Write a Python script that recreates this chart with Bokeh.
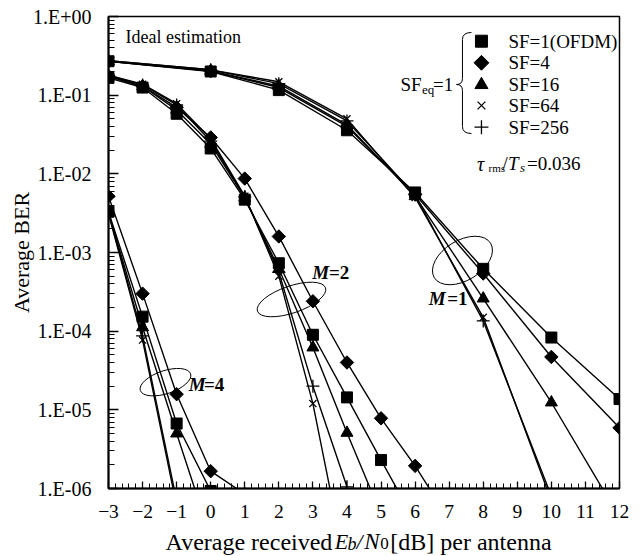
import math
import numpy as np
from bokeh.plotting import figure
from bokeh.layouts import column
from bokeh.models import (Range1d, SingleIntervalTicker, LogTicker, CustomJSTickFormatter,
                          Label, LabelSet, ColumnDataSource)
from bokeh.embed import file_html
from bokeh.resources import INLINE

nan = float("nan")

# ---------------- data ----------------
series_labels = ["SF=1(OFDM)", "SF=4", "SF=16", "SF=64", "SF=256"]

x_m1 = [-3, 0, 2, 4, 6, 8, 10, 12]
m1_sf1 = [0.270, 0.200, 0.116, 0.0358, 0.0058, 6.2e-4, 8.3e-5, 1.37e-5]
m1_sf4 = [0.270, 0.202, 0.125, 0.040, 0.0055, 5.4e-4, 4.7e-5, 5.9e-6]
m1_sf16 = [0.270, 0.204, 0.130, 0.042, 0.0052, 2.6e-4, 1.24e-5, 4.3e-7]
m1_sf64 = [0.275, 0.210, 0.148, 0.050, 0.0050, 1.5e-4, 7.0e-7, nan]
m1_sf256 = [0.275, 0.210, 0.140, 0.047, 0.0054, 1.35e-4, 8.0e-7, nan]

x_m2 = [-3, -2, -1, 0, 1, 2, 3, 4, 5, 6, 7]
m2_sf1 = [0.166, 0.125, 0.058, 0.021, 0.0047, 7.3e-4, 9.0e-5, 1.44e-5, 2.3e-6, 3.8e-7, nan]
m2_sf4 = [0.175, 0.130, 0.070, 0.029, 0.0087, 1.6e-3, 2.4e-4, 4.0e-5, 7.8e-6, 1.94e-6, 4.0e-7]
m2_sf16 = [0.172, 0.130, 0.065, 0.024, 0.0050, 6.2e-4, 6.2e-5, 5.1e-6, 4.7e-7, nan, nan]
m2_sf64 = [0.180, 0.138, 0.078, 0.028, 0.0052, 5.0e-4, 1.2e-5, 8.3e-8, nan, nan, nan]
m2_sf256 = [0.178, 0.135, 0.075, 0.026, 0.0051, 5.6e-4, 2.0e-5, 1.05e-6, nan, nan, nan]

x_m4 = [-3, -2, -1, 0, 1]
m4_sf1 = [3.3e-3, 1.53e-4, 6.7e-6, 9.3e-7, nan]
m4_sf4 = [5.2e-3, 3.0e-4, 1.58e-5, 1.66e-6, 8.5e-7]
m4_sf16 = [3.2e-3, 1.12e-4, 5.0e-6, 2.4e-7, nan]
m4_sf64 = [3.1e-3, 7.7e-5, 6.0e-7, nan, nan]
m4_sf256 = [3.2e-3, 8.7e-5, 7.0e-7, nan, nan]

groups = [
    (x_m1, [m1_sf1, m1_sf4, m1_sf16, m1_sf64, m1_sf256]),
    (x_m2, [m2_sf1, m2_sf4, m2_sf16, m2_sf64, m2_sf256]),
    (x_m4, [m4_sf1, m4_sf4, m4_sf16, m4_sf64, m4_sf256]),
]

# ---------------- figure ----------------
FONT = "Liberation Serif"
H_MAIN = 526
H_XLAB = 30

p = figure(width=643, height=H_MAIN, output_backend="svg", toolbar_location=None,
           x_range=Range1d(-3, 12), y_range=Range1d(1e-6, 1), y_axis_type="log",
           min_border_left=108, min_border_right=24, min_border_top=16,
           min_border_bottom=H_MAIN - 488,
           background_fill_color="white", border_fill_color="white")
p.grid.visible = False
p.outline_line_color = "black"
p.outline_line_width = 1.5

p.xaxis.ticker = SingleIntervalTicker(interval=1, num_minor_ticks=5)
p.yaxis.ticker = LogTicker(num_minor_ticks=10)
p.yaxis.formatter = CustomJSTickFormatter(code="""
const e = Math.round(Math.log10(tick));
const s = e < 0 ? "-" : "+";
const a = Math.abs(e);
return "1.E" + s + (a < 10 ? "0" : "") + a;
""")
for ax in (p.xaxis[0], p.yaxis[0]):
    ax.axis_line_width = 2
    ax.axis_line_color = "black"
    ax.major_tick_out = 0
    ax.minor_tick_out = 0
    ax.major_tick_line_color = "black"
    ax.minor_tick_line_color = "black"
    ax.major_tick_line_width = 1.3
    ax.minor_tick_line_width = 1.0
    ax.major_label_text_font = FONT
    ax.major_label_text_color = "black"
p.xaxis.major_label_text_font_size = "19.5px"
p.yaxis.major_label_text_font_size = "20px"
p.xaxis.major_label_standoff = 16
p.yaxis.major_label_standoff = 17
p.xaxis.major_tick_in = 7
p.xaxis.minor_tick_in = 5
p.yaxis.major_tick_in = 10
p.yaxis.minor_tick_in = 6

p.yaxis.axis_label = "Average BER"
p.yaxis.axis_label_text_font = FONT
p.yaxis.axis_label_text_font_size = "22px"
p.yaxis.axis_label_text_font_style = "normal"
p.yaxis.axis_label_text_color = "black"
p.yaxis.axis_label_standoff = -4

# ---------------- helpers for annotation placement ----------------
def dx(px):
    return (px - 108.0) / 34.07 - 3.0

def dy(py):
    return 10 ** (-(py - 16.0) / 78.67)

def lab(text, px, py, size, style="normal", align="left", fig=None, yconv=None):
    fig = fig or p
    yconv = yconv or dy
    fig.add_layout(Label(x=dx(px), y=yconv(py), text=text, text_font=FONT,
                         text_font_size=f"{size}px", text_font_style=style,
                         text_align=align, text_baseline="middle", text_color="black"))

# ---------------- series ----------------
marker_specs = [
    dict(marker="square", size=11, angle=0.0),
    dict(marker="square", size=9.5, angle=math.pi / 4),
    dict(marker="triangle", size=12, angle=0.0),
    dict(marker="x", size=10, angle=0.0),
    dict(marker="cross", size=13, angle=0.0),
]

for xs, ys_list in groups:
    for ys in ys_list:
        p.line(xs, ys, line_color="black", line_width=1.4)
for xs, ys_list in groups:
    for ys, spec in zip(ys_list, marker_specs):
        filled = spec["marker"] in ("square", "triangle")
        p.scatter(xs, ys, marker=spec["marker"], size=spec["size"], angle=spec["angle"],
                  fill_color="black" if filled else None, line_color="black",
                  line_width=1.0 if filled else 1.3)

# ---------------- legend (manual) ----------------
leg_y = [40.7, 62.3, 84.3, 105.0, 126.7]
for spec, yy in zip(marker_specs, leg_y):
    filled = spec["marker"] in ("square", "triangle")
    p.scatter([dx(481)], [dy(yy)], marker=spec["marker"], size=spec["size"] + 1,
              angle=spec["angle"], fill_color="black" if filled else None,
              line_color="black", line_width=1.0 if filled else 1.3)
leg_src = ColumnDataSource(dict(x=[dx(508)] * 5, y=[dy(v) for v in leg_y], t=series_labels))
p.add_layout(LabelSet(x="x", y="y", text="t", source=leg_src, text_font=FONT,
                      text_font_size="19px", text_baseline="middle", text_align="left",
                      text_color="black"))

# brace
bx0, bxm, bxt = 471, 462, 456
p.quadratic(x0=[dx(bx0), dx(bxm), dx(bxt), dx(bxm)],
            y0=[dy(32), dy(78), dy(84), dy(126)],
            x1=[dx(bxm), dx(bxt), dx(bxm), dx(bx0)],
            y1=[dy(39), dy(84), dy(90), dy(133)],
            cx=[dx(bxm), dx(bxm), dx(bxm), dx(bxm)],
            cy=[dy(32), dy(84), dy(84), dy(133)],
            line_color="black", line_width=1.0)
p.segment(x0=[dx(bxm), dx(bxm)], y0=[dy(39), dy(90)], x1=[dx(bxm), dx(bxm)],
          y1=[dy(78), dy(126)], line_color="black", line_width=1.0)

lab("SF", 400, 84.3, 19)
lab("eq", 421.5, 89.5, 13)
lab("=1", 432.5, 84.3, 19)

# tau
lab("\u03c4", 476.5, 163.3, 20, "italic")
lab("rms", 488, 167.5, 11)
lab("/", 502, 163.3, 19)
lab("T", 507.5, 163.3, 19, "italic")
lab("s", 519.5, 167.5, 13, "italic")
lab("=0.036", 526.5, 163.3, 19)

lab("Ideal estimation", 125, 37, 18)

# ellipses
p.ellipse(x=[dx(165), dx(291), dx(462)], y=[dy(381.7), dy(299), dy(260)],
          width=[53, 72, 66], height=[23, 27, 40], angle=[0.32, 0.33, 0.55],
          width_units="screen", height_units="screen",
          fill_alpha=0, line_color="black", line_width=1.0)

lab("M", 188.3, 384, 19, "bold italic")
lab("=4", 203.5, 384, 19, "bold")
lab("M", 311.7, 271.7, 19, "bold italic")
lab("=2", 328.5, 271.7, 19, "bold")
lab("M", 428.3, 298.3, 19, "bold italic")
lab("=1", 446.7, 298.3, 19, "bold")

# ---------------- x axis label strip (composed with mixed styles) ----------------
q = figure(width=643, height=H_XLAB, output_backend="svg", toolbar_location=None,
           x_range=p.x_range, y_range=Range1d(0, 1),
           x_axis_location=None, y_axis_location=None,
           min_border_left=108, min_border_right=24, min_border_top=0, min_border_bottom=0,
           background_fill_color="white", border_fill_color="white")
q.grid.visible = False
q.outline_line_color = None

def qy(py):
    return 1.0 - (py - H_MAIN) / H_XLAB

yl = 541
lab("Average received", 248.5, yl, 24, "normal", "center", q, qy)
lab("E", 341, yl, 22, "italic", "center", q, qy)
lab("b", 351.5, yl + 2, 18, "italic", "center", q, qy)
lab("/", 359, yl, 22, "italic", "center", q, qy)
lab("N", 371.5, yl, 23, "italic", "center", q, qy)
lab("0", 384, yl + 2, 17, "normal", "center", q, qy)
lab("[dB] per antenna", 470.5, yl, 24, "normal", "center", q, qy)

layout = column(p, q, spacing=0)
open("out.html", "w").write(file_html(layout, INLINE))
